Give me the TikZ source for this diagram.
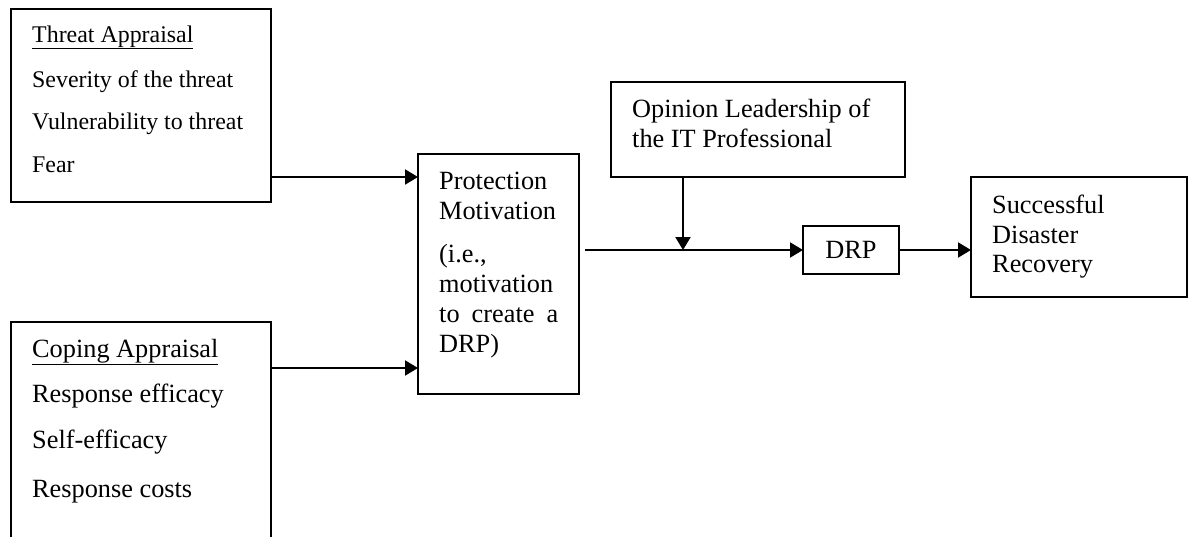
\documentclass[tikz,border=0pt]{standalone}
\usepackage{fontspec}
\setmainfont{Liberation Serif}
\usetikzlibrary{arrows.meta,calc}
\newcommand\txtA{\fontsize{26.3}{30}\selectfont}
\newcommand\txtB{\fontsize{23.9}{28}\selectfont}
\begin{document}
\begin{tikzpicture}[x=1pt,y=-1pt,
  box/.style={draw,line width=2pt,inner sep=0pt,outer sep=0pt,anchor=north west},
  lbl/.style={anchor=base west,inner sep=0pt,font=\txtA},
  lbs/.style={anchor=base west,inner sep=0pt,font=\txtB},
  arr/.style={line width=2.1pt,-{Triangle[length=13pt,width=15pt]}}]
\useasboundingbox (0,0) rectangle (1193,536);
\clip (0,0) rectangle (1193,536);
% boxes
\node[box,minimum width=260pt,minimum height=193pt] (threat) at (11,9) {};
\node[box,minimum width=260pt,minimum height=240pt] (coping) at (11,322) {};
\node[box,minimum width=161pt,minimum height=240pt] (prot) at (418,154) {};
\node[box,minimum width=294pt,minimum height=95pt] (opinion) at (611,82) {};
\node[box,minimum width=96pt,minimum height=48pt,font=\txtA] (drp) at (803,226) {DRP};
\node[box,minimum width=216pt,minimum height=120pt] (succ) at (971,177) {};
% texts
\node[lbs] (t1) at (32,42) {\underline{Threat Appraisal}};
\node[lbs] (t2) at (32,87) {Severity of the threat};
\node[lbs] (t3) at (32,129) {Vulnerability to threat};
\node[lbs] (t4) at (32,172) {Fear};
\node[lbl] (c1) at (32,357) {\underline{Coping Appraisal}};
\node[lbl] (c2) at (32,402) {Response efficacy};
\node[lbl] (c3) at (32,448) {Self-efficacy};
\node[lbl] (c4) at (32,497) {Response costs};
\node[lbl] (p1) at (439,189) {Protection};
\node[lbl] (p2) at (439,219) {Motivation};
\node[lbl] (p3) at (439,262) {(i.e.,};
\node[lbl] (p4) at (439,292) {motivation};
\node[lbl] (p5) at (439,322) {\makebox[119pt][s]{to\hfill create\hfill a}};
\node[lbl] (p6) at (439,352) {DRP)};
\node[lbl] (o1) at (632,117) {Opinion Leadership of};
\node[lbl] (o2) at (632,147) {the IT Professional};
\node[lbl] (s1) at (992,213) {Successful};
\node[lbl] (s2) at (992,243) {Disaster};
\node[lbl] (s3) at (992,272) {Recovery};
% connectors
\coordinate (ta) at ([yshift=25pt]threat.south east);
\draw[arr] (ta) -- (ta -| prot.west);
\coordinate (ca) at ([yshift=-46pt]coping.north east);
\draw[arr] (ca) -- (ca -| prot.west);
\coordinate (pa) at ([xshift=6pt]prot.east |- drp.west);
\draw[arr] (pa) -- (drp.west);
\coordinate (ob) at ([xshift=72pt]opinion.south west);
\draw[arr] (ob) -- (ob |- drp.west);
\draw[arr] (drp.east) -- (drp.east -| succ.west);
\end{tikzpicture}
\end{document}
